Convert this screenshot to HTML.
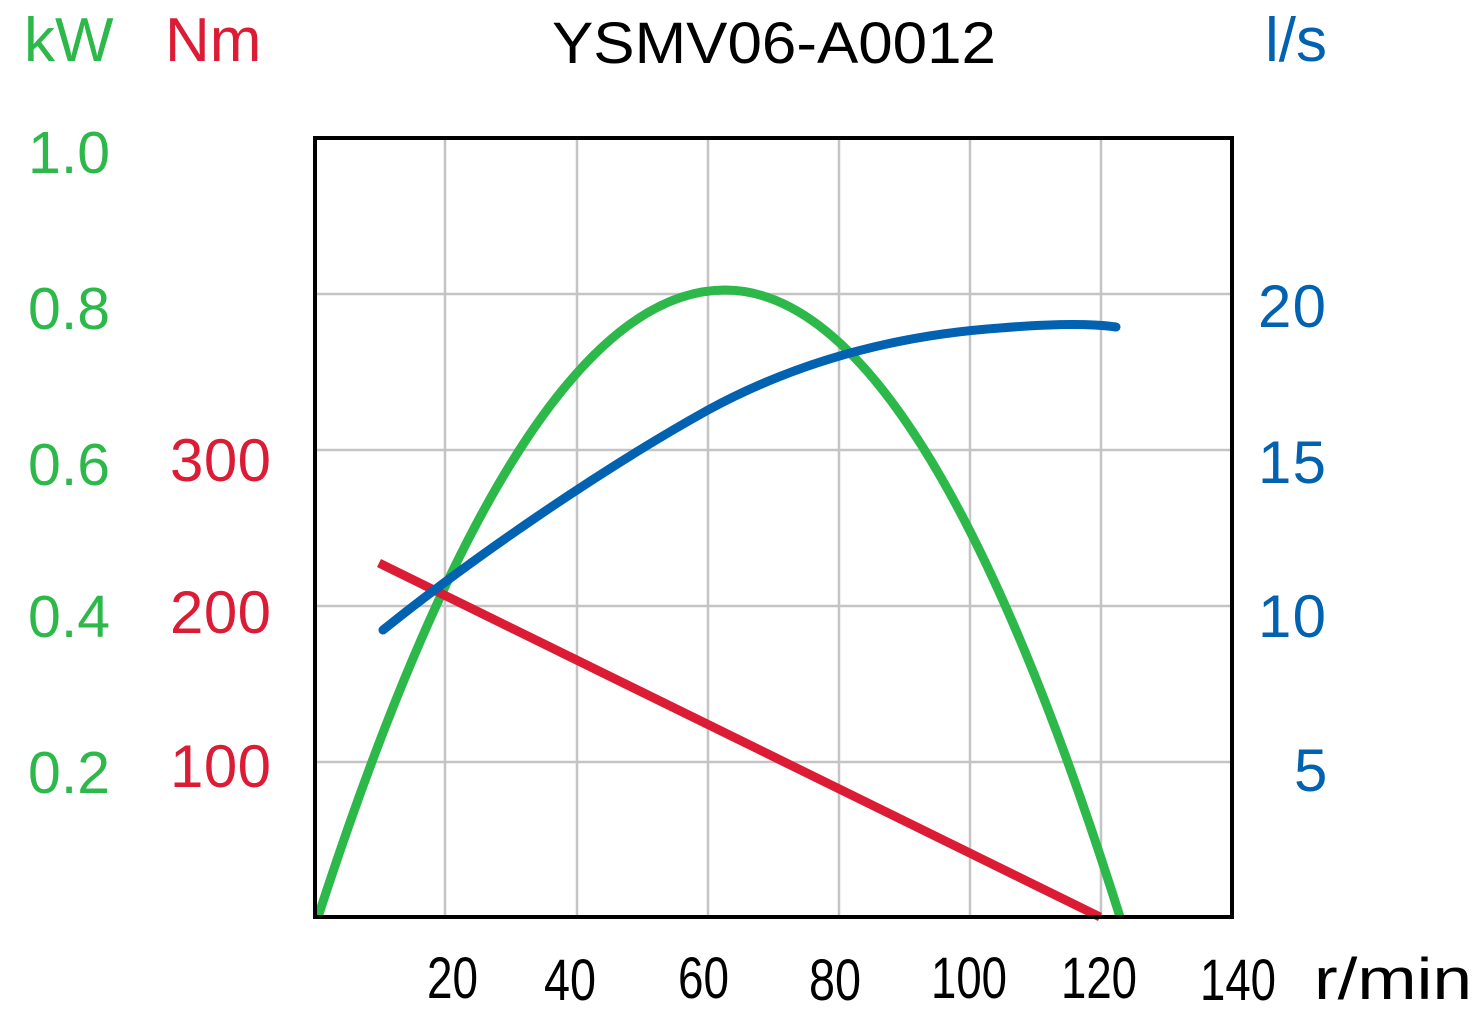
<!DOCTYPE html>
<html><head><meta charset="utf-8"><style>
html,body{margin:0;padding:0;background:#fff}
svg{display:block}
text{font-family:"Liberation Sans","DejaVu Sans",sans-serif}
.g{fill:#2db84a}.r{fill:#dc1b35}.b{fill:#0062b1}
.x{font-family:"Liberation Sans",sans-serif;fill:#000;font-size:58px}
</style></head><body>
<svg width="1482" height="1012" viewBox="0 0 1482 1012" xmlns="http://www.w3.org/2000/svg">
<g stroke="#c4c4c4" stroke-width="2.5">
<line x1="445" y1="138" x2="445" y2="917"/><line x1="577" y1="138" x2="577" y2="917"/>
<line x1="708" y1="138" x2="708" y2="917"/><line x1="839" y1="138" x2="839" y2="917"/>
<line x1="970" y1="138" x2="970" y2="917"/><line x1="1101" y1="138" x2="1101" y2="917"/>
<line x1="315" y1="294" x2="1232" y2="294"/><line x1="315" y1="450" x2="1232" y2="450"/>
<line x1="315" y1="606" x2="1232" y2="606"/><line x1="315" y1="762" x2="1232" y2="762"/>
</g>
<path d="M318,917 Q521.5,290 725,290 Q922.5,290 1120,917" fill="none" stroke="#2db84a" stroke-width="9"/>
<line x1="379" y1="563" x2="1100" y2="917" stroke="#dc1b35" stroke-width="9"/>
<path d="M383,630 C470,560 600,470 708,410 C800,360 900,335 1000,328 C1060,323 1095,324 1116,327" fill="none" stroke="#0062b1" stroke-width="9" stroke-linecap="round"/>
<rect x="315" y="138" width="917" height="779" fill="none" stroke="#000" stroke-width="4"/>
<text class="g" x="24" y="61" font-size="62">kW</text>
<text class="r" x="165" y="61" font-size="62">Nm</text>
<text class="b" x="1265" y="61" font-size="62">l/s</text>
<text x="552" y="63" class="x" font-size="68" textLength="444" lengthAdjust="spacingAndGlyphs">YSMV06-A0012</text>
<g class="g" font-size="59">
<text x="28" y="173">1.0</text><text x="28" y="329">0.8</text><text x="28" y="485">0.6</text><text x="28" y="637">0.4</text><text x="28" y="793">0.2</text>
</g>
<g class="r" font-size="60">
<text x="170" y="481" textLength="101">300</text><text x="170" y="633" textLength="101">200</text><text x="170" y="787" textLength="101">100</text>
</g>
<g class="b" font-size="60">
<text x="1258" y="327" textLength="68">20</text><text x="1258" y="483" textLength="68">15</text><text x="1258" y="637" textLength="68">10</text><text x="1294" y="791">5</text>
</g>
<g class="x">
<text x="427" y="998" textLength="51" lengthAdjust="spacingAndGlyphs">20</text>
<text x="544" y="1000" textLength="52" lengthAdjust="spacingAndGlyphs">40</text>
<text x="678" y="998" textLength="51" lengthAdjust="spacingAndGlyphs">60</text>
<text x="809" y="1000" textLength="52" lengthAdjust="spacingAndGlyphs">80</text>
<text x="931" y="998" textLength="76" lengthAdjust="spacingAndGlyphs">100</text>
<text x="1061" y="998" textLength="76" lengthAdjust="spacingAndGlyphs">120</text>
<text x="1200" y="1000" textLength="76" lengthAdjust="spacingAndGlyphs">140</text>
</g>
<text class="x" x="1314" y="999" textLength="158" lengthAdjust="spacingAndGlyphs">r/min</text>
</svg>
</body></html>
